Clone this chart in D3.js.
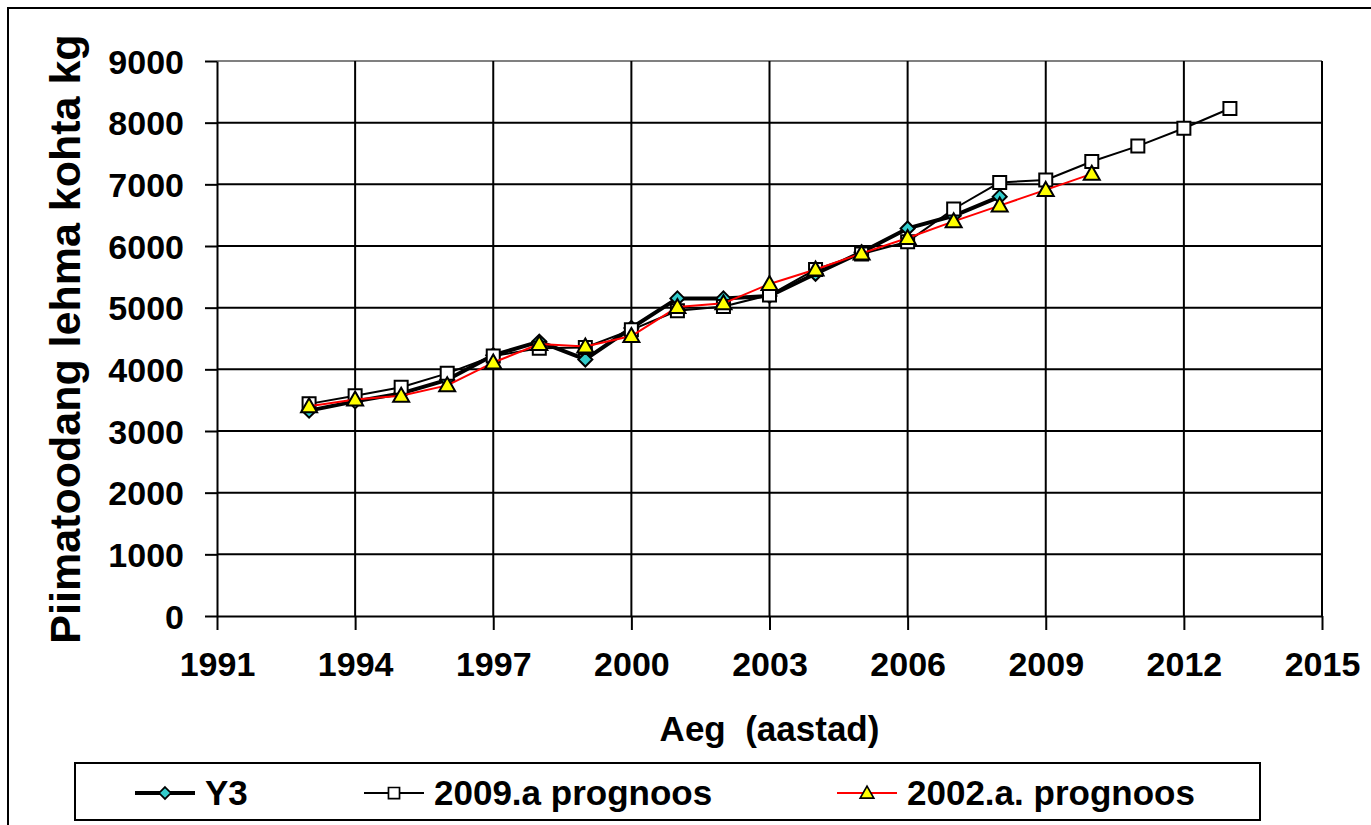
<!DOCTYPE html>
<html>
<head>
<meta charset="utf-8">
<script src="https://cdn.jsdelivr.net/npm/d3@7"></script>
<style>
  body { margin: 0; background: #fff; }
  text { font-family: "Liberation Sans", Arial, sans-serif; font-weight: bold; fill: #000; }
</style>
</head>
<body>
<svg width="1371" height="825"></svg>
<script>
// data
var y3Years = [1993, 1994, 1995, 1996, 1997, 1998, 1999, 2000, 2001, 2002, 2003, 2004, 2005, 2006, 2007, 2008];
var y3Values = [3330, 3480, 3610, 3830, 4230, 4450, 4160, 4670, 5150, 5150, 5190, 5550, 5900, 6285, 6490, 6800];

var p2009Years = [1993, 1994, 1995, 1996, 1997, 1998, 1999, 2000, 2001, 2002, 2003, 2004, 2005, 2006, 2007, 2008, 2009, 2010, 2011, 2012, 2013];
var p2009Values = [3440, 3570, 3710, 3935, 4215, 4340, 4355, 4640, 4950, 5020, 5205, 5620, 5870, 6070, 6600, 7030, 7070, 7370, 7620, 7910, 8230];

var p2002Years = [1993, 1994, 1995, 1996, 1997, 1998, 1999, 2000, 2001, 2002, 2003, 2004, 2005, 2006, 2007, 2008, 2009, 2010];
var p2002Values = [3400, 3510, 3570, 3740, 4110, 4410, 4370, 4540, 5010, 5070, 5385, 5620, 5880, 6130, 6400, 6655, 6910, 7170];

var xTicks = [1991, 1994, 1997, 2000, 2003, 2006, 2009, 2012, 2015];
var yTicks = [0, 1000, 2000, 3000, 4000, 5000, 6000, 7000, 8000, 9000];

var seriesNames = ["Y3", "2009.a prognoos", "2002.a. prognoos"];

var svg = d3.select("svg");

// outer frame of the chart
svg.append("rect")
  .attr("x", 8).attr("y", 8)
  .attr("width", 1420).attr("height", 900)
  .style("fill", "none").style("stroke", "#000").style("stroke-width", 2);

var plotLeft = 217, plotRight = 1322, plotTop = 61, plotBottom = 616;

var xScale = d3.scaleLinear().domain([1991, 2015]).range([plotLeft, plotRight]);
var yScale = d3.scaleLinear().domain([0, 9000]).range([plotBottom, plotTop]);

// gridlines
var grid = svg.append("g");
grid.selectAll(".hg")
  .data(yTicks.filter(function (d) { return d > 0; }))
  .enter().append("line")
  .attr("x1", plotLeft).attr("x2", plotRight)
  .attr("y1", function (d) { return yScale(d); })
  .attr("y2", function (d) { return yScale(d); })
  .style("stroke", function (d) { return d === 9000 ? "#808080" : "#000"; })
  .style("stroke-width", 2);

grid.selectAll(".vg")
  .data(xTicks.filter(function (d) { return d > 1991; }))
  .enter().append("line")
  .attr("y1", plotTop).attr("y2", plotBottom)
  .attr("x1", function (d) { return xScale(d); })
  .attr("x2", function (d) { return xScale(d); })
  .style("stroke", "#000")
  .style("stroke-width", 2);

// axes
var xAxis = svg.append("g")
  .attr("transform", "translate(0," + plotBottom + ")")
  .call(d3.axisBottom(xScale).tickValues(xTicks).tickFormat(d3.format("d")).tickSize(14).tickPadding(22).tickSizeOuter(0));

var yAxis = svg.append("g")
  .attr("transform", "translate(" + plotLeft + ",0)")
  .call(d3.axisLeft(yScale).tickValues(yTicks).tickFormat(d3.format("d")).tickSize(12).tickPadding(21).tickSizeOuter(0));

[xAxis, yAxis].forEach(function (a) {
  a.select(".domain").style("stroke", "#000").style("stroke-width", 2);
  a.selectAll(".tick line").style("stroke", "#000").style("stroke-width", 2);
  a.selectAll(".tick text")
    .style("font-family", "Liberation Sans, Arial, sans-serif")
    .style("font-weight", "bold")
    .style("font-size", "34px")
    .style("fill", "#000");
});
yAxis.selectAll(".tick text").attr("dy", "0.36em");

// axis titles
svg.append("text")
  .attr("x", (plotLeft + plotRight) / 2)
  .attr("y", 741)
  .attr("text-anchor", "middle")
  .attr("xml:space", "preserve")
  .style("font-size", "35px")
  .text("Aeg  (aastad)");

svg.append("text")
  .attr("text-anchor", "middle")
  .attr("transform", "translate(80,339) rotate(-90)")
  .style("font-size", "43px")
  .text("Piimatoodang lehma kohta kg");

// lines and markers
var line = d3.line()
  .x(function (d) { return xScale(d[0]); })
  .y(function (d) { return yScale(d[1]); });

function pairs(xs, ys) { return xs.map(function (x, i) { return [x, ys[i]]; }); }

var y3 = pairs(y3Years, y3Values),
    p2009 = pairs(p2009Years, p2009Values),
    p2002 = pairs(p2002Years, p2002Values);

var diamond = "M0,-7L7,0L0,7L-7,0Z",
    square = "M-6.5,-6.5H6.5V6.5H-6.5Z",
    triangle = "M0,-8L8,6H-8Z";

function drawSeries(data, color, width, shape, fill) {
  svg.append("path")
    .datum(data)
    .attr("d", line)
    .style("fill", "none")
    .style("stroke", color)
    .style("stroke-width", width)
    .style("stroke-linejoin", "round");
  svg.append("g").selectAll("path")
    .data(data)
    .enter().append("path")
    .attr("d", shape)
    .attr("transform", function (d) { return "translate(" + xScale(d[0]) + "," + yScale(d[1]) + ")"; })
    .style("fill", fill)
    .style("stroke", "#000")
    .style("stroke-width", 2);
}

drawSeries(y3, "#000", 4, diamond, "#33CCCC");
drawSeries(p2009, "#000", 2, square, "#fff");
drawSeries(p2002, "#FF0000", 2, triangle, "#FFFF00");

// legend
var legend = svg.append("g");
legend.append("rect")
  .attr("x", 75).attr("y", 763)
  .attr("width", 1185).attr("height", 57)
  .style("fill", "#fff").style("stroke", "#000").style("stroke-width", 2);

var legendItems = [
  { name: seriesNames[0], x: 135, color: "#000", width: 4, shape: diamond, fill: "#33CCCC" },
  { name: seriesNames[1], x: 364, color: "#000", width: 2, shape: square, fill: "#fff" },
  { name: seriesNames[2], x: 837, color: "#FF0000", width: 2, shape: triangle, fill: "#FFFF00" }
];

legendItems.forEach(function (it) {
  legend.append("line")
    .attr("x1", it.x).attr("x2", it.x + 60)
    .attr("y1", 793).attr("y2", 793)
    .style("stroke", it.color).style("stroke-width", it.width);
  legend.append("path")
    .attr("d", it.shape)
    .attr("transform", "translate(" + (it.x + 30) + ",793) scale(0.85)")
    .style("fill", it.fill).style("stroke", "#000").style("stroke-width", 2);
  legend.append("text")
    .attr("x", it.x + 70)
    .attr("y", 805)
    .style("font-size", "35px")
    .text(it.name);
});
</script>
</body>
</html>
